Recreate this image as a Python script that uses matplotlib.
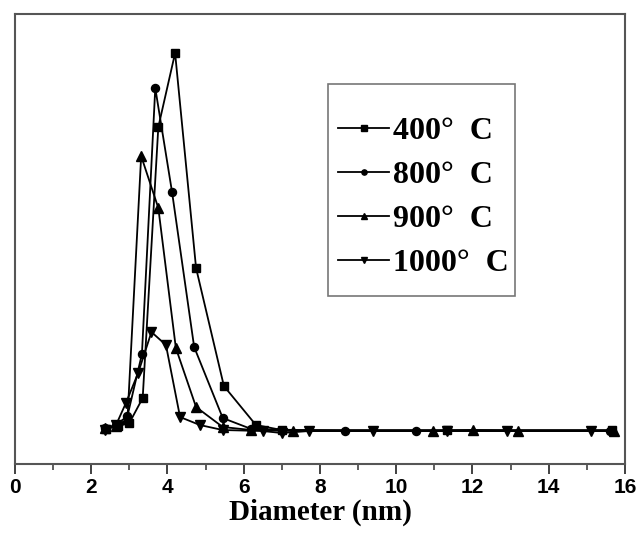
import matplotlib
matplotlib.use("Agg")
import matplotlib.pyplot as plt
from matplotlib.ticker import MultipleLocator
from matplotlib.patches import Rectangle

# Data (diameter in nm, relative frequency in arbitrary units)
x400 = [2.40, 2.70, 3.00, 3.35, 3.76, 4.20, 4.75, 5.48, 6.32, 7.00, 11.33, 15.66]
y400 = [0.2, 0.5, 0.8, 3.3, 30.4, 37.8, 16.3, 4.5, 0.6, 0.1, 0.1, 0.1]

x800 = [2.35, 2.65, 2.95, 3.33, 3.68, 4.12, 4.70, 5.45, 6.20, 8.66, 10.52, 15.60]
y800 = [0.3, 0.6, 1.5, 7.7, 34.3, 23.9, 8.4, 1.3, 0.2, 0.0, 0.0, 0.0]

x900 = [2.35, 2.65, 2.95, 3.31, 3.76, 4.22, 4.75, 5.45, 6.20, 7.29, 10.96, 12.01, 13.19, 15.70]
y900 = [0.3, 0.5, 1.2, 27.5, 22.3, 8.3, 2.4, 0.4, 0.1, 0.0, 0.0, 0.1, 0.0, 0.0]

x1000 = [2.35, 2.65, 2.91, 3.23, 3.58, 3.96, 4.33, 4.85, 5.45, 6.50, 7.00, 7.71, 9.39, 11.33, 12.90, 15.10]
y1000 = [0.1, 0.6, 2.8, 5.8, 9.9, 8.6, 1.4, 0.6, 0.1, 0.0, -0.2, 0.0, 0.0, 0.0, 0.0, 0.0]

labels = ["400\u00b0  C", "800\u00b0  C", "900\u00b0  C", "1000\u00b0  C"]
xticks = [0, 2, 4, 6, 8, 10, 12, 14, 16]

fig = plt.figure(figsize=(6.4, 5.4), dpi=100)
ax = fig.add_axes([0.0234, 0.1407, 0.9531, 0.8333])

series = [(x400, y400, "s", 6), (x800, y800, "o", 5.8),
          (x900, y900, "^", 6.8), (x1000, y1000, "v", 6.8)]
for (xs, ys, m, ms), lab in zip(series, labels):
    ax.plot(xs, ys, color="black", lw=1.3, marker=m, markersize=ms,
            markerfacecolor="black", markeredgecolor="black", label=lab)

ax.set_xlim(0, 16)
ax.set_ylim(-3.3, 41.7)
ax.set_yticks([])
ax.set_xticks(xticks)
ax.xaxis.set_minor_locator(MultipleLocator(1))
ax.tick_params(axis="x", which="major", direction="out", length=7, width=1.3,
               color="#333333", pad=3)
ax.tick_params(axis="x", which="minor", direction="out", length=4, width=1.1,
               color="#333333")
for lbl in ax.get_xticklabels():
    lbl.set_fontfamily("Liberation Sans")
    lbl.set_fontweight("bold")
    lbl.set_fontsize(15)
for sp in ax.spines.values():
    sp.set_color("#555555")
    sp.set_linewidth(1.5)

ax.set_xlabel("Diameter (nm)", fontfamily="Liberation Serif", fontweight="bold",
              fontsize=21, labelpad=1)

# legend frame drawn separately so padding can differ horizontally/vertically
ax.add_patch(Rectangle((0.513, 0.373), 0.307, 0.471, transform=ax.transAxes,
                       facecolor="white", edgecolor="#777777", lw=1.2, zorder=4))
leg = ax.legend(loc="upper left", bbox_to_anchor=(0.530, 0.772), borderaxespad=0,
                frameon=False, borderpad=0,
                prop={"family": "Liberation Serif", "weight": "bold", "size": 23},
                handlelength=1.6, handletextpad=0.1, markerscale=0.65,
                labelspacing=0.46)
leg.set_zorder(5)

fig.savefig("out.png", dpi=100)
